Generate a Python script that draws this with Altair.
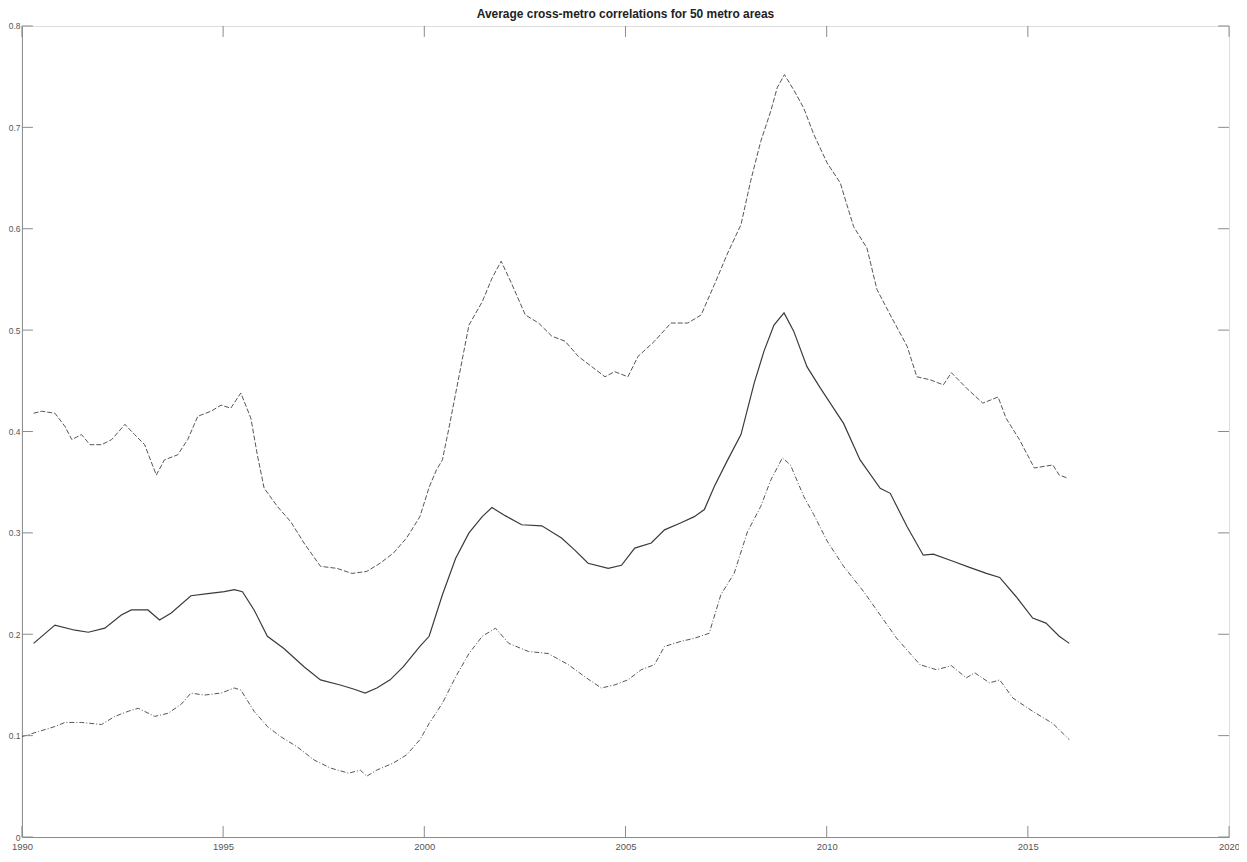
import altair as alt
import pandas as pd

# ---- data ----
upper_years = [1990.29, 1990.49, 1990.82, 1991.07, 1991.24, 1991.48, 1991.69, 1991.98, 1992.23, 1992.56,
               1992.80, 1993.05, 1993.34, 1993.54, 1993.87, 1994.12, 1994.37, 1994.70, 1994.95, 1995.19,
               1995.44, 1995.69, 1995.85, 1996.02, 1996.35, 1996.68, 1997.01, 1997.42, 1997.83, 1998.20,
               1998.57, 1998.90, 1999.23, 1999.56, 1999.89, 2000.12, 2000.30, 2000.45, 2000.61, 2000.86,
               2001.11, 2001.44, 2001.68, 2001.91, 2002.18, 2002.51, 2002.84, 2003.17, 2003.50, 2003.83,
               2004.16, 2004.49, 2004.73, 2005.06, 2005.31, 2005.72, 2006.13, 2006.55, 2006.88, 2007.21,
               2007.54, 2007.87, 2008.11, 2008.36, 2008.61, 2008.77, 2008.95, 2009.18, 2009.43, 2009.68,
               2010.01, 2010.34, 2010.50, 2010.67, 2011.00, 2011.25, 2011.58, 2012.00, 2012.24, 2012.57,
               2012.90, 2013.10, 2013.47, 2013.88, 2014.26, 2014.46, 2014.79, 2015.16, 2015.62, 2015.78,
               2015.99]
upper_vals = [0.418, 0.420, 0.418, 0.405, 0.392, 0.397, 0.387, 0.387, 0.392, 0.407,
              0.397, 0.387, 0.357, 0.372, 0.377, 0.392, 0.415, 0.420, 0.426, 0.423,
              0.438, 0.413, 0.377, 0.344, 0.326, 0.311, 0.290, 0.267, 0.265, 0.260,
              0.262, 0.270, 0.280, 0.295, 0.316, 0.345, 0.362, 0.372, 0.403, 0.454,
              0.505, 0.528, 0.551, 0.568, 0.545, 0.515, 0.507, 0.494, 0.489, 0.474,
              0.464, 0.454, 0.459, 0.454, 0.474, 0.489, 0.507, 0.507, 0.515, 0.545,
              0.576, 0.604, 0.647, 0.686, 0.716, 0.739, 0.752, 0.737, 0.719, 0.693,
              0.665, 0.645, 0.624, 0.602, 0.581, 0.540, 0.515, 0.484, 0.454, 0.451,
              0.446, 0.458, 0.443, 0.428, 0.434, 0.413, 0.392, 0.364, 0.367, 0.357,
              0.354]

mid_years = [1990.29, 1990.82, 1991.32, 1991.65, 1992.06, 1992.47, 1992.72, 1993.13, 1993.42, 1993.71,
             1994.20, 1994.62, 1995.03, 1995.28, 1995.48, 1995.77, 1996.10, 1996.51, 1997.01, 1997.42,
             1997.91, 1998.24, 1998.53, 1998.82, 1999.15, 1999.48, 1999.89, 2000.12, 2000.45, 2000.78,
             2001.11, 2001.44, 2001.68, 2002.01, 2002.42, 2002.92, 2003.41, 2003.74, 2004.07, 2004.57,
             2004.90, 2005.23, 2005.64, 2005.97, 2006.38, 2006.71, 2006.96, 2007.21, 2007.54, 2007.87,
             2008.20, 2008.44, 2008.69, 2008.94, 2009.18, 2009.51, 2009.84, 2010.17, 2010.42, 2010.83,
             2011.33, 2011.58, 2012.00, 2012.40, 2012.65, 2013.14, 2013.55, 2013.97, 2014.30, 2014.71,
             2015.12, 2015.45, 2015.78, 2016.03]
mid_vals = [0.191, 0.209, 0.204, 0.202, 0.206, 0.219, 0.224, 0.224, 0.214, 0.221,
            0.238, 0.240, 0.242, 0.244, 0.242, 0.224, 0.198, 0.186, 0.168, 0.155,
            0.150, 0.146, 0.142, 0.147, 0.155, 0.168, 0.188, 0.198, 0.239, 0.275,
            0.300, 0.316, 0.325, 0.317, 0.308, 0.307, 0.295, 0.283, 0.270, 0.265,
            0.268, 0.285, 0.290, 0.303, 0.310, 0.316, 0.323, 0.346, 0.372, 0.397,
            0.448, 0.479, 0.505, 0.517, 0.499, 0.464, 0.443, 0.423, 0.408, 0.372,
            0.344, 0.339, 0.306, 0.278, 0.279, 0.272, 0.266, 0.260, 0.256, 0.237,
            0.216, 0.211, 0.198, 0.191]

lower_years = [1990.00, 1990.41, 1990.82, 1991.07, 1991.48, 1991.98, 1992.31, 1992.64, 1992.89, 1993.30,
               1993.63, 1993.96, 1994.20, 1994.53, 1994.95, 1995.28, 1995.44, 1995.77, 1996.10, 1996.43,
               1996.84, 1997.26, 1997.67, 1998.12, 1998.41, 1998.57, 1998.82, 1999.23, 1999.56, 1999.89,
               2000.12, 2000.45, 2000.78, 2001.11, 2001.44, 2001.77, 2002.10, 2002.59, 2003.08, 2003.58,
               2003.99, 2004.40, 2004.73, 2005.06, 2005.39, 2005.72, 2005.97, 2006.38, 2006.71, 2007.08,
               2007.37, 2007.70, 2008.03, 2008.36, 2008.61, 2008.90, 2009.10, 2009.43, 2009.68, 2010.01,
               2010.42, 2010.92, 2011.33, 2011.74, 2012.32, 2012.73, 2013.10, 2013.47, 2013.68, 2014.05,
               2014.30, 2014.63, 2015.12, 2015.62, 2016.03]
lower_vals = [0.099, 0.104, 0.109, 0.113, 0.113, 0.111, 0.119, 0.124, 0.127, 0.119,
              0.122, 0.131, 0.142, 0.140, 0.142, 0.147, 0.145, 0.124, 0.109, 0.099,
              0.089, 0.076, 0.068, 0.063, 0.066, 0.060, 0.066, 0.073, 0.081, 0.096,
              0.112, 0.132, 0.158, 0.181, 0.198, 0.206, 0.191, 0.183, 0.181, 0.170,
              0.158, 0.147, 0.150, 0.155, 0.165, 0.170, 0.188, 0.193, 0.196, 0.201,
              0.239, 0.260, 0.301, 0.326, 0.352, 0.374, 0.367, 0.336, 0.318, 0.292,
              0.267, 0.242, 0.219, 0.196, 0.170, 0.165, 0.169, 0.157, 0.162, 0.152,
              0.155, 0.137, 0.124, 0.112, 0.096]

x_ticks = [1990, 1995, 2000, 2005, 2010, 2015, 2020]
y_ticks = [0, 0.1, 0.2, 0.3, 0.4, 0.5, 0.6, 0.7, 0.8]

W, H = 1213, 815
TICK = 11
LINE = "#3a3a3a"
FRAME = "#8a8a8a"

df_upper = pd.DataFrame({"year": upper_years, "value": upper_vals})
df_mid = pd.DataFrame({"year": mid_years, "value": mid_vals})
df_lower = pd.DataFrame({"year": lower_years, "value": lower_vals})
df_xt = pd.DataFrame({"year": x_ticks})
df_yt = pd.DataFrame({"value": y_ticks})

xscale = alt.Scale(domain=[1990, 2020], nice=False, zero=False)
yscale = alt.Scale(domain=[0, 0.8], nice=False)

xaxis = alt.Axis(values=x_ticks, format="d", ticks=False, grid=False, title=None,
                 labelFontSize=9.5, labelColor="#555", labelPadding=5, labelFont="Liberation Sans",
                 domainColor=FRAME, labelFlush=False)
yaxis = alt.Axis(values=y_ticks, ticks=False, grid=False, title=None,
                 labelExpr="datum.value == 0 ? '0' : format(datum.value, '.1f')",
                 labelFontSize=8.5, labelColor="#555", labelPadding=2, labelFont="Liberation Sans",
                 domainColor=FRAME, labelFlush=False)

def line(df, dash=None, width=1.0, color=LINE):
    kw = dict(color=color, strokeWidth=width, clip=True)
    if dash:
        kw["strokeDash"] = dash
    return alt.Chart(df).mark_line(**kw).encode(
        x=alt.X("year:Q", scale=xscale, axis=xaxis),
        y=alt.Y("value:Q", scale=yscale, axis=yaxis),
    )

upper = line(df_upper, [5, 2], 1.0, "#555555")
mid = line(df_mid, None, 1.2)
lower = line(df_lower, [5, 2, 1, 2], 1.0, "#555555")

tick_bottom = alt.Chart(df_xt).mark_rule(color=FRAME, strokeWidth=1).encode(
    x=alt.X("year:Q", scale=xscale), y=alt.value(H), y2=alt.value(H - TICK))
tick_top = alt.Chart(df_xt).mark_rule(color=FRAME, strokeWidth=1).encode(
    x=alt.X("year:Q", scale=xscale), y=alt.value(0), y2=alt.value(TICK))
tick_left = alt.Chart(df_yt).mark_rule(color=FRAME, strokeWidth=1).encode(
    y=alt.Y("value:Q", scale=yscale), x=alt.value(0), x2=alt.value(TICK))
tick_right = alt.Chart(df_yt).mark_rule(color=FRAME, strokeWidth=1).encode(
    y=alt.Y("value:Q", scale=yscale), x=alt.value(W), x2=alt.value(W - TICK))

chart = alt.layer(upper, mid, lower, tick_bottom, tick_top, tick_left, tick_right).properties(
    width=W, height=H,
    title=alt.TitleParams("Average cross-metro correlations for 50 metro areas",
                          fontSize=12, fontWeight="bold", font="Liberation Sans",
                          color="#222", anchor="middle", offset=1),
    autosize=alt.AutoSizeParams(type="none"),
    padding={"left": 14, "top": 16, "right": 10, "bottom": 15},
).configure_view(stroke=FRAME, strokeWidth=1).configure(background="white")

chart.save("out.html", embed_options={"renderer": "svg", "actions": False})
